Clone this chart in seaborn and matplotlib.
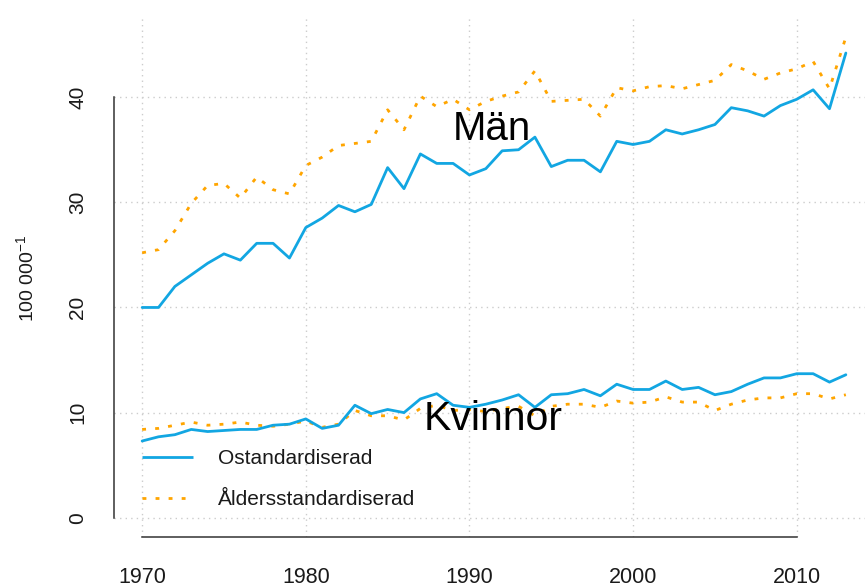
import matplotlib
matplotlib.use("Agg")
import numpy as np
import pandas as pd
import seaborn as sns
import matplotlib.pyplot as plt
from matplotlib.lines import Line2D

# ---------------- data ----------------
years = list(range(1970, 2014))

men_ostd = [20.0, 20.0, 22.0, 23.1, 24.2, 25.1, 24.5, 26.1, 26.1, 24.7,
            27.6, 28.5, 29.7, 29.1, 29.8, 33.3, 31.3, 34.6, 33.7, 33.7,
            32.6, 33.2, 34.9, 35.0, 36.2, 33.4, 34.0, 34.0, 32.9, 35.8,
            35.5, 35.8, 36.9, 36.5, 36.9, 37.4, 39.0, 38.7, 38.2, 39.2,
            39.8, 40.7, 38.9, 44.2]

men_alder = [25.2, 25.5, 27.3, 29.9, 31.6, 31.8, 30.4, 32.4, 31.2, 30.8,
             33.5, 34.3, 35.4, 35.6, 35.8, 38.8, 36.9, 40.1, 39.1, 39.8,
             38.8, 39.6, 40.1, 40.5, 42.5, 39.6, 39.7, 39.8, 38.2, 40.9,
             40.6, 41.0, 41.1, 40.8, 41.2, 41.6, 43.1, 42.5, 41.7, 42.3,
             42.7, 43.4, 40.8, 45.7]

women_ostd = [7.3, 7.7, 7.9, 8.4, 8.2, 8.3, 8.4, 8.4, 8.8, 8.9,
              9.4, 8.5, 8.8, 10.7, 9.9, 10.3, 10.0, 11.3, 11.8, 10.7,
              10.5, 10.8, 11.2, 11.7, 10.5, 11.7, 11.8, 12.2, 11.6, 12.7,
              12.2, 12.2, 13.0, 12.2, 12.4, 11.7, 12.0, 12.7, 13.3, 13.3,
              13.7, 13.7, 12.9, 13.6]

women_alder = [8.4, 8.5, 8.8, 9.1, 8.8, 8.9, 9.1, 8.8, 8.7, 8.9,
               9.2, 8.6, 8.9, 10.2, 9.7, 9.7, 9.3, 10.4, 10.7, 10.2,
               10.3, 10.1, 10.4, 10.6, 9.7, 10.6, 10.8, 10.8, 10.5, 11.1,
               10.9, 11.0, 11.5, 11.0, 11.0, 10.2, 10.8, 11.2, 11.4, 11.4,
               11.8, 11.8, 11.3, 11.7]

x_ticks = [1970, 1980, 1990, 2000, 2010]
y_ticks = [0, 10, 20, 30, 40]
legend_labels = ["Ostandardiserad", "Åldersstandardiserad"]
group_labels = ["Män", "Kvinnor"]
ylabel = "100 000$^{-1}$"

# ---------------- style ----------------
sns.set_style("white")
plt.rcParams["font.family"] = ["Liberation Sans", "DejaVu Sans"]
plt.rcParams["mathtext.default"] = "regular"

BLUE = "#12A6E2"
ORANGE = "#FFA500"
DOT = (0, (1.4, 3.3))
AXC = "#333333"
TXT = "#1a1a1a"

fig = plt.figure(figsize=(8.65, 5.88), dpi=100)
ax = fig.add_axes([114 / 865, 51 / 588, 760 / 865, (537 - 18) / 588])

df = pd.DataFrame({"year": years, "men_ostd": men_ostd, "men_alder": men_alder,
                   "women_ostd": women_ostd, "women_alder": women_alder})

for col, color, ls in [("men_alder", ORANGE, DOT), ("women_alder", ORANGE, DOT),
                       ("men_ostd", BLUE, "-"), ("women_ostd", BLUE, "-")]:
    sns.lineplot(data=df, x="year", y=col, ax=ax, color=color, legend=False)
    ln = ax.lines[-1]
    ln.set_linewidth(2.0)
    ln.set_linestyle(ls)
    ln.set_dash_capstyle("butt")
    ln.set_solid_capstyle("round")
    ln.set_solid_joinstyle("round")

ax.set_xlim(1968.28, 2014.72)
ax.set_ylim(-1.83, 47.53)
ax.set_xticks(x_ticks)
ax.set_yticks(y_ticks)
ax.set_xticklabels([str(v) for v in x_ticks])
ax.set_yticklabels([str(v) for v in y_ticks], rotation=90, va="center")
ax.set_xlabel("")
ax.set_ylabel("")

ax.grid(True, color="#cccccc", linestyle=(0, (1, 3)), linewidth=1.0)
ax.set_axisbelow(True)

for s in ["top", "right"]:
    ax.spines[s].set_visible(False)
ax.spines["left"].set_bounds(0, 40)
ax.spines["bottom"].set_bounds(1970, 2010)
for s in ["left", "bottom"]:
    ax.spines[s].set_color(AXC)
    ax.spines[s].set_linewidth(1.1)

ax.tick_params(axis="both", direction="out", length=9.4, width=1.1, color=AXC,
               labelsize=15, labelcolor=TXT, pad=10)
ax.tick_params(axis="x", labelsize=15.5, pad=12.5)

fig.text(26 / 865, 1 - 278 / 588, ylabel, rotation=90, ha="center", va="center",
         fontsize=14, color=TXT)

ax.text(1991.39, 35.9, group_labels[0], fontsize=29, ha="center", va="baseline",
        color="black", zorder=10)
ax.text(1991.45, 8.38, group_labels[1], fontsize=29.5, ha="center", va="baseline",
        color="black", zorder=10)

handles = [Line2D([], [], color=BLUE, lw=2.0, solid_capstyle="butt"),
           Line2D([], [], color=ORANGE, lw=2.0, linestyle=DOT, dash_capstyle="butt")]
ax.legend(handles, legend_labels, loc="upper left",
          bbox_to_anchor=(142 / 865, 1 - 449 / 588), bbox_transform=fig.transFigure,
          frameon=False, fontsize=15, handlelength=2.45, handletextpad=1.2,
          labelspacing=1.05, borderpad=0, borderaxespad=0, labelcolor=TXT)

fig.savefig("out.png", dpi=100)
